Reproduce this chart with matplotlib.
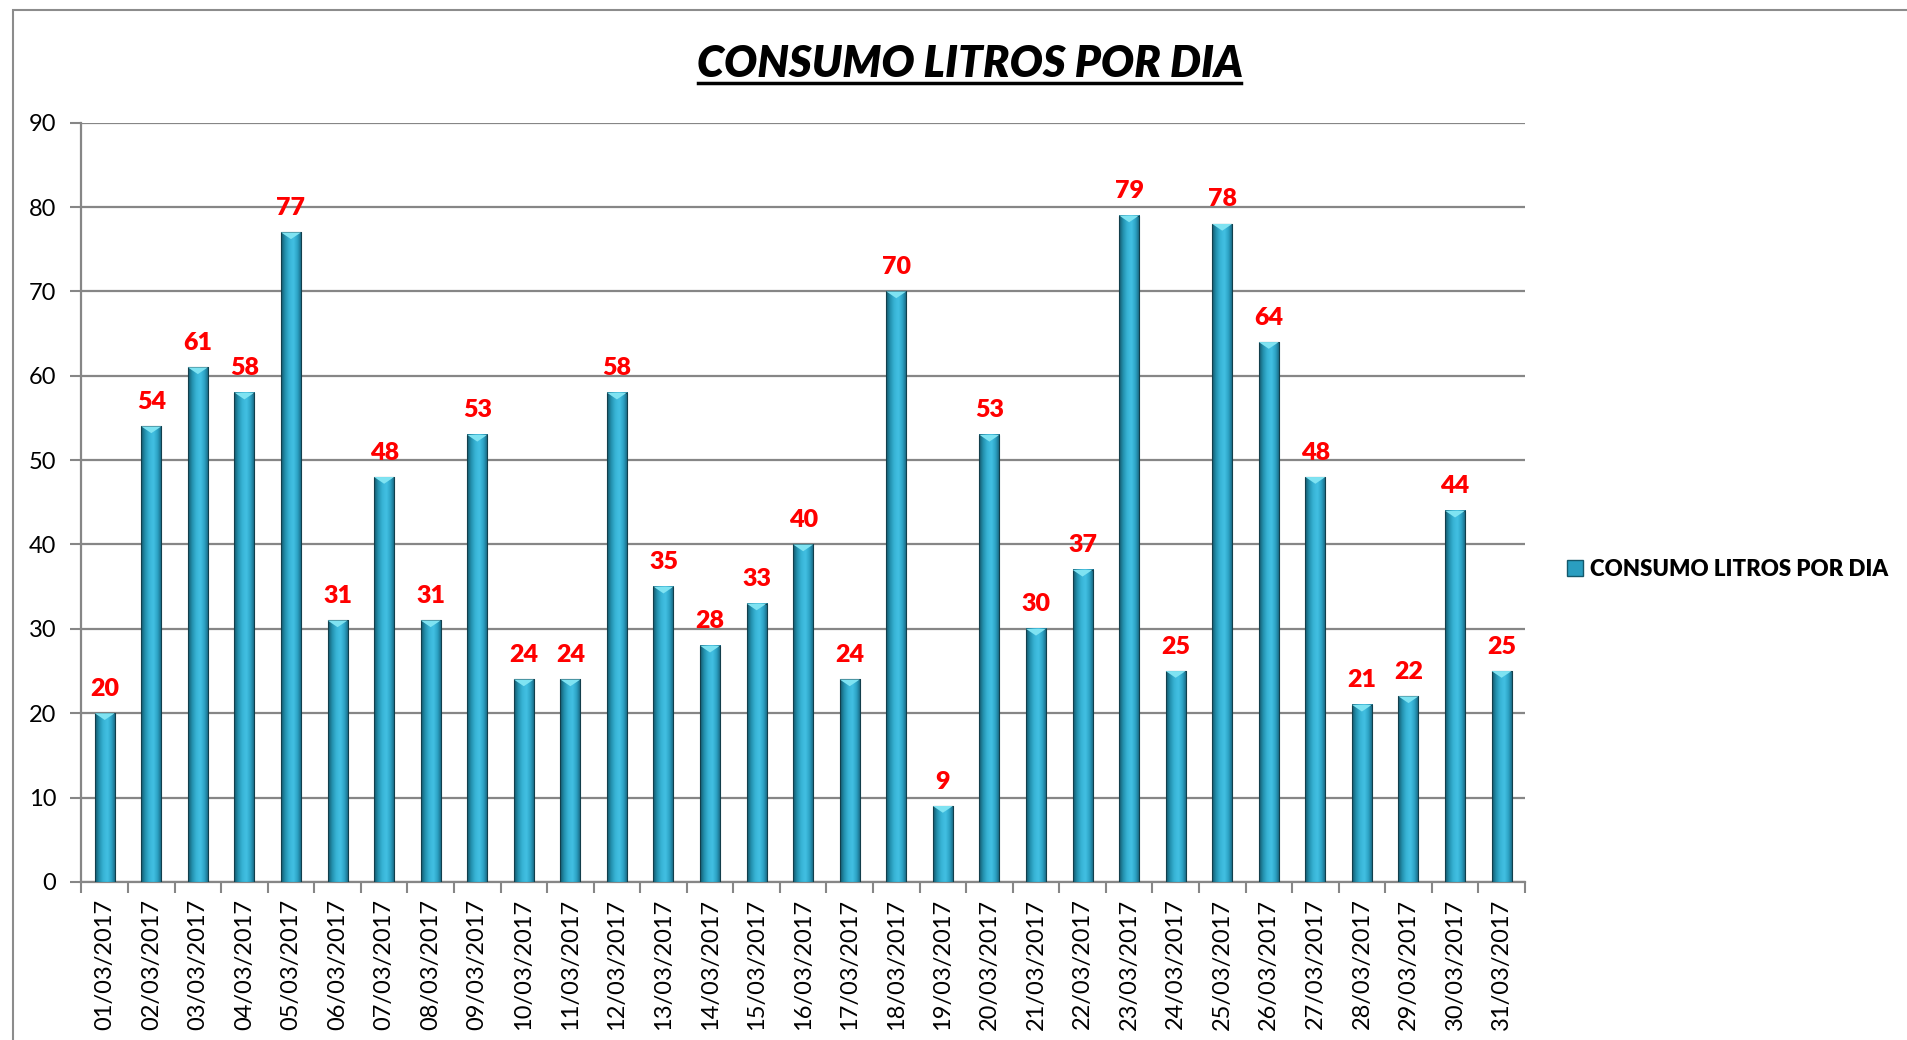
import numpy as np
import matplotlib.pyplot as plt
from matplotlib.patches import Rectangle, Polygon
from matplotlib.colors import LinearSegmentedColormap

# Datos
fechas = ["%02d/03/2017" % d for d in range(1, 32)]
litros = [20, 54, 61, 58, 77, 31, 48, 31, 53, 24, 24, 58, 35, 28, 33, 40,
          24, 70, 9, 53, 30, 37, 79, 25, 78, 64, 48, 21, 22, 44, 25]
titulo = "CONSUMO LITROS POR DIA"
yticks = [0, 10, 20, 30, 40, 50, 60, 70, 80, 90]

plt.rcParams['font.family'] = ['Lato', 'DejaVu Sans']

fig = plt.figure(figsize=(19.08, 10.40), dpi=100)
ax = fig.add_axes([0.0427, 0.152, 0.7565, 0.730])

# degradado horizontal de la barra
cmap = LinearSegmentedColormap.from_list(
    "barra", ["#14586b", "#2492b0", "#38b4d6", "#42c0e3", "#2ca2c4", "#17607a"])
grad = np.linspace(0, 1, 64).reshape(1, -1)

w = 0.43
x = np.arange(len(litros))
for xi, v in zip(x, litros):
    ax.imshow(grad, extent=[xi - w / 2, xi + w / 2, 0, v], aspect='auto',
              cmap=cmap, zorder=3, interpolation='bicubic')
    ax.add_patch(Rectangle((xi - w / 2, 0), w, v, fill=False,
                           edgecolor="#123f4c", lw=0.8, zorder=4))
    # tapa triangular clara
    ax.add_patch(Polygon([[xi - w / 2, v], [xi + w / 2, v], [xi, v - 0.8]],
                         closed=True, facecolor="#7fe3f2", edgecolor="none",
                         zorder=5))
    ax.text(xi, v + 1.6, str(v), ha='center', va='bottom', color='#ff0000',
            fontsize=18, fontweight='heavy', zorder=6)

ax.set_xlim(-0.5, len(litros) - 0.5)
ax.set_ylim(0, 90)
ax.set_yticks(yticks)
ax.set_xticks(x)
ax.set_xticklabels(fechas, rotation=90, fontsize=17)
ax.set_xticks(np.arange(len(litros) + 1) - 0.5, minor=True)
ax.tick_params(axis='x', which='major', length=0, pad=12)
ax.tick_params(axis='x', which='minor', length=8, width=1.5, color='#868686')
ax.tick_params(axis='y', length=8, width=1.5, color='#868686', labelsize=17, pad=10)

ax.yaxis.grid(True, color='#868686', lw=1.6, zorder=1)
ax.set_axisbelow(True)
for s in ['top', 'right']:
    ax.spines[s].set_visible(False)
for s in ['left', 'bottom']:
    ax.spines[s].set_color('#868686')
    ax.spines[s].set_linewidth(1.6)

# titulo subrayado
fig.text(970 / 1908, 1 - 77 / 1040, titulo, ha='center', va='baseline', fontsize=31.5,
         fontweight='heavy', fontstyle='italic')
fig.add_artist(plt.Line2D([698 / 1908, 1241 / 1908], [1 - 83 / 1040, 1 - 83 / 1040],
                          color='black', lw=2.5))

# leyenda
h = Rectangle((0, 0), 1, 1, facecolor='#2a9ec0', edgecolor='#14586b')
fig.legend([h], [titulo], loc='center left', bbox_to_anchor=(0.811, 1 - 569 / 1040),
           frameon=False, prop={'weight': 'heavy', 'size': 16},
           handlelength=0.7, handleheight=0.7, handletextpad=0.3)

# borde del grafico
fig.add_artist(Rectangle((13 / 1908, -0.05), 1.1, 1.05 - 10 / 1040,
                         transform=fig.transFigure, fill=False,
                         edgecolor='#8c8c8c', lw=1.5))

fig.savefig("out.png", dpi=100)
